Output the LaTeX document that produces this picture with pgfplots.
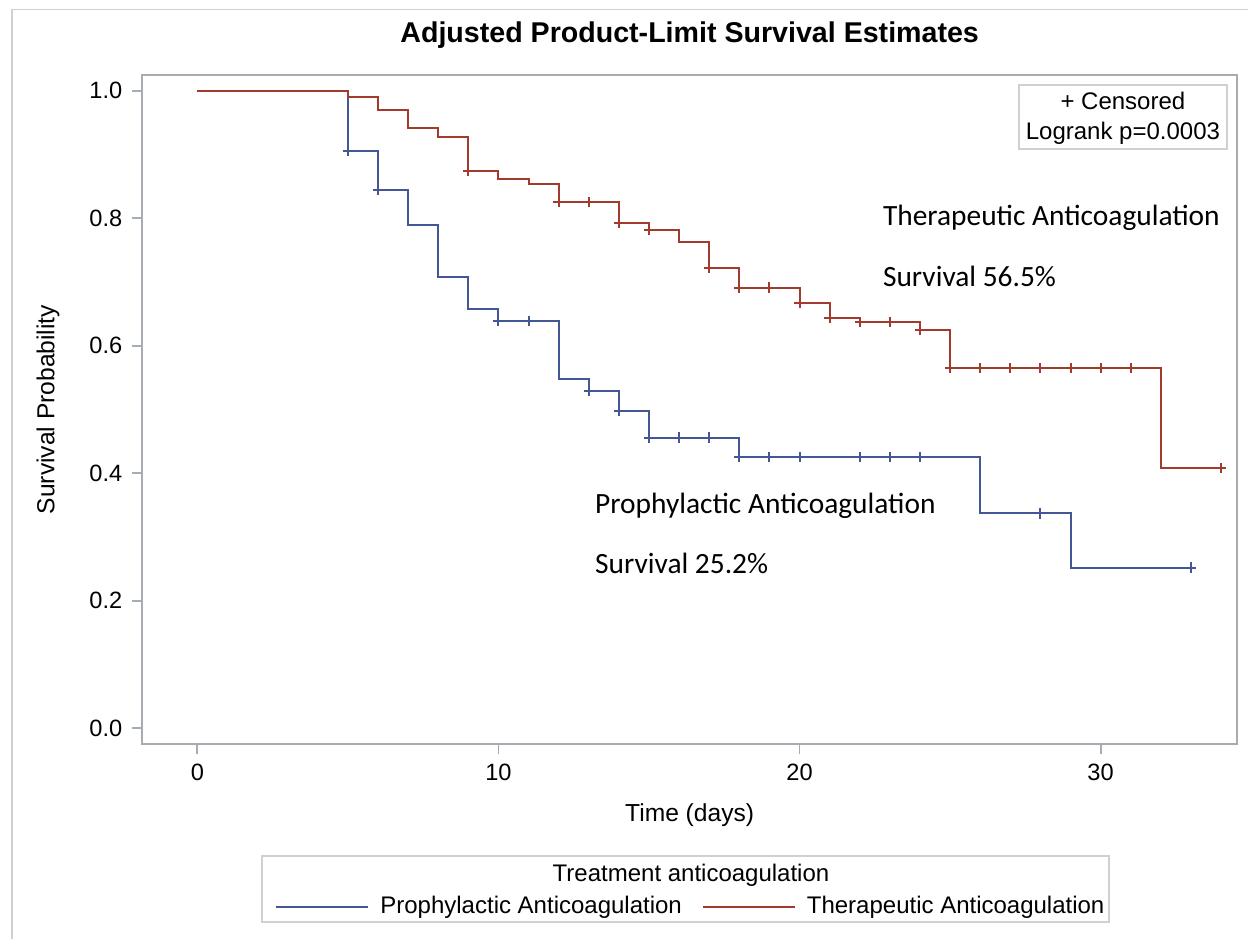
\documentclass[border=0pt]{standalone}
\usepackage{pgfplots}
\pgfplotsset{compat=1.18}
\usepackage{fontspec}
\setmainfont{Liberation Sans}
\newfontfamily\calibri{Carlito}
\definecolor{sasblue}{HTML}{445694}
\definecolor{sasred}{HTML}{A23A2E}
\definecolor{axisgray}{RGB}{166,172,178}
\definecolor{boxgray}{RGB}{208,208,208}
\begin{document}
\begin{tikzpicture}
\useasboundingbox (0,0) rectangle (624pt,469.5pt);
\draw[boxgray, line width=0.8pt] (6.1pt,0pt) -- (6.1pt,464.8pt) -- (624pt,464.8pt);
\begin{axis}[
  at={(71.15pt,97.5pt)}, anchor=south west,
  scale only axis, width=547.35pt, height=334.5pt,
  xmin=-1.83, xmax=34.53, ymin=-0.0246, ymax=1.0245,
  xtick={0,10,20,30}, ytick={0,0.2,0.4,0.6,0.8,1.0},
  /pgf/number format/assume math mode=true,
  yticklabel style={/pgf/number format/.cd, fixed, fixed zerofill, precision=1, /tikz/.cd, xshift=-1.5pt},
  xticklabel style={yshift=-1.5pt},
  tick label style={font=\fontsize{11.8}{14}\selectfont},
  tick align=outside, tick pos=left, major tick length=5pt,
  tick style={axisgray, line width=0.9pt},
  axis line style={axisgray, line width=0.9pt},
  title={Adjusted Product-Limit Survival Estimates},
  title style={font=\bfseries\fontsize{14.3}{16}\selectfont, at={(axis description cs:0.5,1.0419)}, anchor=center},
  xlabel={Time (days)},
  xlabel style={font=\fontsize{12.3}{14}\selectfont, at={(axis description cs:0.5,-0.1061)}, anchor=center},
  ylabel={Survival Probability},
  ylabel style={font=\fontsize{12.3}{14}\selectfont, at={(axis description cs:-0.0861,0.5)}, anchor=center},
  legend style={draw=none, fill=none, inner sep=0pt, at={(axis description cs:0.1212,-0.2432)}, anchor=west,
    legend columns=2, font=\fontsize{12}{14}\selectfont,
    /tikz/every even column/.append style={column sep=8pt}},
  legend image code/.code={\draw[#1, line width=1pt] (0pt,0pt) -- (46pt,0pt); \path (49.5pt,0pt);},
  clip=false,
]
\addplot[sasblue, line width=1pt, const plot] coordinates {
(0,1) (5,0.905) (6,0.844) (7,0.789) (8,0.707) (9,0.658) (10,0.639) (12,0.548)
(13,0.529) (14,0.498) (15,0.456) (18,0.425) (26,0.337) (29,0.252) (33,0.252)};
\addlegendentry{Prophylactic Anticoagulation}
\addplot[sasred, line width=1pt, const plot] coordinates {
(0,1) (5,0.990) (6,0.969) (7,0.942) (8,0.927) (9,0.874) (10,0.862) (11,0.853)
(12,0.825) (14,0.792) (15,0.781) (16,0.762) (17,0.722) (18,0.691) (20,0.667)
(21,0.643) (22,0.637) (24,0.625) (25,0.565) (32,0.408) (34,0.408)};
\addlegendentry{Therapeutic Anticoagulation}
\addplot[sasblue, only marks, mark=+, mark size=2.6pt, mark options={line width=1pt}, forget plot] coordinates {
(5,0.905) (6,0.844) (10,0.639) (11,0.639) (13,0.529) (14,0.498) (15,0.456) (16,0.456)
(17,0.456) (18,0.425) (19,0.425) (20,0.425) (22,0.425) (23,0.425) (24,0.425) (28,0.337) (33,0.252)};
\addplot[sasred, only marks, mark=+, mark size=2.6pt, mark options={line width=1pt}, forget plot] coordinates {
(9,0.874) (12,0.825) (13,0.825) (14,0.792) (15,0.781) (17,0.722) (18,0.691) (19,0.691)
(20,0.667) (21,0.643) (22,0.637) (23,0.637) (24,0.625) (25,0.565) (26,0.565) (27,0.565)
(28,0.565) (29,0.565) (30,0.565) (31,0.565) (34,0.408)};
\draw[boxgray, line width=0.8pt] (rel axis cs:0.8009,0.889) rectangle (rel axis cs:0.9906,0.985);
\node[anchor=base, inner sep=0pt, font=\fontsize{12}{14}\selectfont] at (rel axis cs:0.8958,0.949) {+ Censored};
\node[anchor=base, inner sep=0pt, font=\fontsize{12}{14}\selectfont] at (rel axis cs:0.8958,0.9043) {Logrank p=0.0003};
\node[anchor=base west, inner sep=0pt, font=\calibri\fontsize{14.7}{17}\selectfont] at (axis cs:22.76,0.788) {Therapeutic Anticoagulation};
\node[anchor=base west, inner sep=0pt, font=\calibri\fontsize{14.7}{17}\selectfont] at (axis cs:22.76,0.6936) {Survival 56.5\%};
\node[anchor=base west, inner sep=0pt, font=\calibri\fontsize{14.7}{17}\selectfont] at (axis cs:13.2,0.337) {Prophylactic Anticoagulation};
\node[anchor=base west, inner sep=0pt, font=\calibri\fontsize{14.7}{17}\selectfont] at (axis cs:13.2,0.243) {Survival 25.2\%};
\end{axis}
\draw[boxgray, line width=0.8pt] (131.1pt,8.65pt) rectangle (554.5pt,41.5pt);
\node[anchor=base, inner sep=0pt, font=\fontsize{12}{14}\selectfont] at (345.5pt,28.65pt) {Treatment anticoagulation};
\end{tikzpicture}
\end{document}
